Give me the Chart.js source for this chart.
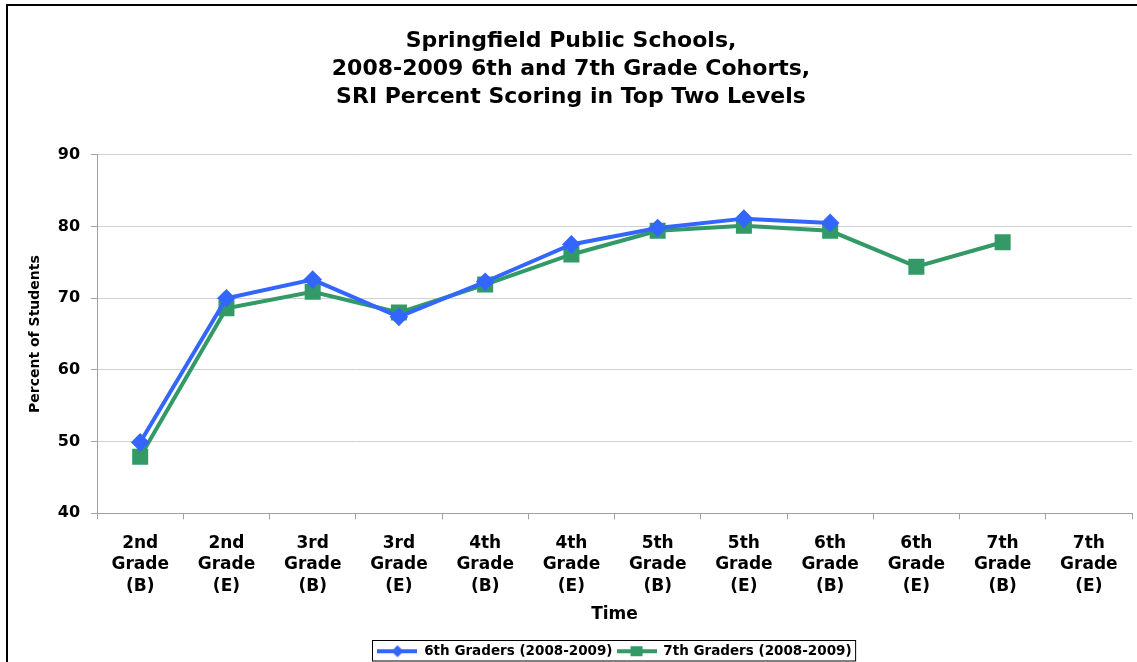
<!DOCTYPE html>
<html>
<head>
<meta charset="utf-8">
<title>SRI Cohorts</title>
<script src="https://cdn.jsdelivr.net/npm/chart.js@4.4.1/dist/chart.umd.min.js"></script>
<style>
  html, body { margin: 0; padding: 0; background: #fff; overflow: hidden; }
  #wrap { width: 1137px; height: 662px; position: relative; }
  #sri { display: block; }
</style>
</head>
<body>
<div id="wrap"><canvas id="sri"></canvas></div>
<script>
    var grades = ['2nd', '2nd', '3rd', '3rd', '4th', '4th', '5th', '5th', '6th', '6th', '7th', '7th'];
    var terms = ['(B)', '(E)', '(B)', '(E)', '(B)', '(E)', '(B)', '(E)', '(B)', '(E)', '(B)', '(E)'];
    var sixth = [49.9, 70.0, 72.6, 67.4, 72.3, 77.5, 79.8, 81.1, 80.5, null, null, null];
    var seventh = [47.9, 68.6, 70.9, 68.0, 71.9, 76.1, 79.4, 80.1, 79.4, 74.4, 77.8, null];
    var yMin = 40, yMax = 90, yStep = 10;

    var blue = '#3366FF';
    var green = '#339966';
    var font = '"DejaVu Sans", Verdana, sans-serif';

    var labels = grades.map(function(g, i) { return [g, 'Grade', terms[i]]; });

    // little line + marker pictures for the legend
    function legendMark(color, shape) {
        var c = document.createElement('canvas');
        c.width = 40; c.height = 14;
        var g = c.getContext('2d');
        g.strokeStyle = color; g.lineWidth = 4;
        g.beginPath(); g.moveTo(0, 7); g.lineTo(40, 7); g.stroke();
        g.fillStyle = color;
        if (shape == 'diamond') {
            g.beginPath(); g.moveTo(20, 1); g.lineTo(26, 7); g.lineTo(20, 13); g.lineTo(14, 7); g.closePath(); g.fill();
        } else {
            g.fillRect(14, 2, 12, 10);
        }
        return c;
    }
    var marks = [legendMark(blue, 'diamond'), legendMark(green, 'square')];

    var frame = {
        id: 'frame',
        afterDraw: function(chart) {
            var ctx = chart.ctx;
            ctx.save();
            ctx.strokeStyle = '#000';
            ctx.lineWidth = 2;
            ctx.strokeRect(7, 5, 1200, 700);
            // box round the legend
            var boxes = chart.legend.legendHitBoxes;
            if (boxes && boxes.length) {
                var l = boxes[0].left, r = boxes[boxes.length - 1].left + boxes[boxes.length - 1].width;
                var t = boxes[0].top, b = boxes[0].top + boxes[0].height;
                ctx.lineWidth = 1;
                ctx.strokeRect(Math.round(l) - 4.5, Math.round(t) - 3.5, r - l + 9, b - t + 7);
            }
            ctx.restore();
        }
    };

    window.sriChart = new Chart(document.getElementById('sri'), {
        type: 'line',
        data: {
            labels: labels,
            datasets: [{
                label: '6th Graders (2008-2009)',
                data: sixth,
                borderColor: blue,
                backgroundColor: blue,
                borderWidth: 4,
                pointStyle: 'rectRot',
                pointRadius: 6.5,
                pointHoverRadius: 6.5,
                spanGaps: false
            }, {
                label: '7th Graders (2008-2009)',
                data: seventh,
                borderColor: green,
                backgroundColor: green,
                borderWidth: 4,
                pointStyle: 'rect',
                pointRadius: 8.5,
                pointHoverRadius: 8.5,
                spanGaps: false
            }]
        },
        options: {
            responsive: true,
            maintainAspectRatio: false,
            animation: false,
            layout: { autoPadding: false, padding: { left: 10, right: 5, top: 0, bottom: -6 } },
            plugins: {
                title: {
                    display: true,
                    text: ['Springfield Public Schools,', '2008-2009 6th and 7th Grade Cohorts,', 'SRI Percent Scoring in Top Two Levels'],
                    color: '#000',
                    font: { family: font, size: 22, weight: 'bold', lineHeight: 1.27 },
                    padding: { top: 27, bottom: 44 }
                },
                legend: {
                    position: 'bottom',
                    fullSize: false,
                    labels: {
                        color: '#000',
                        font: { family: font, size: 13.5, weight: 'bold' },
                        usePointStyle: true,
                        pointStyleWidth: 40,
                        padding: 4,
                        generateLabels: function(chart) {
                            var items = Chart.defaults.plugins.legend.labels.generateLabels(chart);
                            items.forEach(function(it, i) { it.pointStyle = marks[i]; });
                            return items;
                        }
                    }
                },
                tooltip: { enabled: false }
            },
            scales: {
                x: {
                    offset: true,
                    grid: { offset: true, drawOnChartArea: false, tickLength: 6, color: '#a0a0a0' },
                    border: { color: '#a0a0a0', width: 1 },
                    ticks: {
                        color: '#000',
                        font: { family: font, size: 17, weight: 'bold', lineHeight: 1.27 },
                        maxRotation: 0,
                        autoSkip: false,
                        padding: 13
                    },
                    title: {
                        display: true,
                        text: 'Time',
                        color: '#000',
                        font: { family: font, size: 17, weight: 'bold', lineHeight: 1.2 },
                        padding: { top: -6, bottom: 16 }
                    }
                },
                y: {
                    min: yMin,
                    max: yMax,
                    grid: { color: '#d0d0d0', tickLength: 6, tickColor: '#a0a0a0' },
                    border: { color: '#a0a0a0', width: 1 },
                    ticks: {
                        stepSize: yStep,
                        color: '#000',
                        font: { family: font, size: 16, weight: 'bold' },
                        padding: 11
                    },
                    title: {
                        display: true,
                        text: 'Percent of Students',
                        color: '#000',
                        font: { family: font, size: 14, weight: 'bold' },
                        padding: { top: 17, bottom: 3 }
                    }
                }
            }
        },
        plugins: [frame]
    });
</script>
</body>
</html>
